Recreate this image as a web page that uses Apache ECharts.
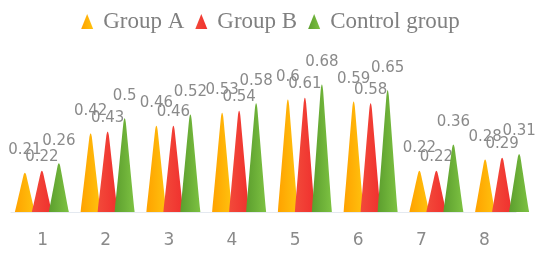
<!DOCTYPE html>
<html><head><meta charset="utf-8">
<script src="https://cdn.jsdelivr.net/npm/echarts@6/dist/echarts.min.js"></script>
<style>html,body{margin:0;padding:0;background:#fff}#c{width:541px;height:257px}</style>
</head><body><div id="c"></div>
<script>
var categories = ['1','2','3','4','5','6','7','8'];
var groupA = [0.21,0.42,0.46,0.53,0.6,0.59,0.22,0.28];
var groupB = [0.22,0.43,0.46,0.54,0.61,0.58,0.22,0.29];
var control = [0.26,0.5,0.52,0.58,0.68,0.65,0.36,0.31];
var names = ['Group A','Group B','Control group'];

var peak = 'path://M0,10 C1.5,7 3.6,2.2 4.4,0.6 Q5,-0.3 5.6,0.6 C6.4,2.2 8.5,7 10,10 Z';
function grad(a,b){return new echarts.graphic.LinearGradient(0,0,1,0,[{offset:0,color:a},{offset:1,color:b}]);}
var fills = [grad('#FFA200','#FFC20E'), grad('#F24A3A','#F0302E'), grad('#5C9E2E','#7DC242')];
var legendColors = ['#FFA500','#F03A30','#6AAE38'];
var labelDist = [15, 6, 15];
function mk(i,data){
  return {
    name: names[i], type:'pictorialBar', symbol: peak, barWidth: 20, barGap:'-15%',
    xAxisIndex:0, yAxisIndex:0,
    itemStyle:{color: fills[i]},
    label:{show:true, position:'top', distance:labelDist[i], color:'#8a8a8a', fontSize:15, fontFamily:'DejaVu Sans'},
    data: data, z: 10+i
  };
}
var chart = echarts.init(document.getElementById('c'));
chart.setOption({
  animation:false,
  color: legendColors,
  legend:{top:5, left:'center', itemWidth:12, itemHeight:15, itemGap:11, icon:'triangle',
    textStyle:{fontFamily:'Liberation Serif', fontSize:23, color:'#808080', padding:[0,0,0,5]},
    data: names},
  grid:[{left:9, right:6, top:62, bottom:45},{left:11, right:25, top:62, bottom:45}],
  xAxis:[
    {type:'category', gridIndex:0, data:categories, show:false},
    {type:'category', gridIndex:1, data:categories, axisTick:{show:false},
      axisLine:{lineStyle:{color:'#e4e9f0'}},
      axisLabel:{color:'#8a8a8a', fontSize:17, margin:20, fontFamily:'DejaVu Sans'}}
  ],
  yAxis:[
    {type:'value', gridIndex:0, min:0, max:0.8, show:false, splitLine:{show:false}},
    {type:'value', gridIndex:1, min:0, max:0.8, show:false, splitLine:{show:false}}
  ],
  series:[mk(0,groupA), mk(1,groupB), mk(2,control)]
});
</script></body></html>
